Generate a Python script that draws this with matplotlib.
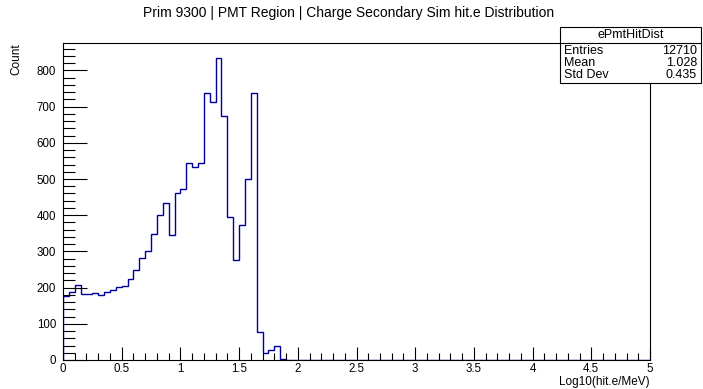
import numpy as np
import matplotlib
matplotlib.use("Agg")
import matplotlib.pyplot as plt
from matplotlib.ticker import MultipleLocator, FuncFormatter
from matplotlib.patches import Rectangle
from matplotlib.lines import Line2D

plt.rcParams['font.family'] = ['Liberation Sans', 'DejaVu Sans']

title = "Prim 9300 | PMT Region | Charge Secondary Sim hit.e Distribution"
x_label = "Log10(hit.e/MeV)"
y_label = "Count"
hist_name = "ePmtHitDist"
stat_names = ["Entries", "Mean", "Std Dev"]
stat_values = ["12710", "1.028", "0.435"]

x_min, x_max, n_bins = 0.0, 5.0, 100
counts_nonzero = [177, 188, 207, 182, 182, 184, 180, 188, 193, 202,
                  204, 225, 250, 283, 302, 349, 400, 435, 344, 460,
                  473, 545, 532, 543, 737, 714, 834, 673, 395, 276,
                  372, 501, 738, 78, 18, 27, 38, 3]
counts = counts_nonzero + [0] * (n_bins - len(counts_nonzero))
edges = np.linspace(x_min, x_max, n_bins + 1)

W, H = 703, 389
fig = plt.figure(figsize=(W / 100, H / 100), dpi=100)

L, R, T, B = 63, 650, 43, 360
ax = fig.add_axes([L / W, 1 - B / H, (R - L) / W, (B - T) / H])

ax.stairs(counts, edges, color='#000099', linewidth=1.0, baseline=0)

ymax = max(counts) * 1.05
ax.set_xlim(x_min, x_max)
ax.set_ylim(0, ymax)

ax.xaxis.set_major_locator(MultipleLocator(0.5))
ax.xaxis.set_minor_locator(MultipleLocator(0.1))
ax.yaxis.set_major_locator(MultipleLocator(100))
ax.yaxis.set_minor_locator(MultipleLocator(20))

ax.tick_params(axis='both', which='both', direction='in', top=False, right=False,
               labelsize=8.3, width=0.8, colors='black')
ax.tick_params(axis='y', which='major', length=17.5, pad=5)
ax.tick_params(axis='y', which='minor', length=8.8)
ax.tick_params(axis='x', which='major', length=9.5, pad=2.5)
ax.tick_params(axis='x', which='minor', length=4.8)

def fmt(v, pos):
    return '%g' % v
ax.xaxis.set_major_formatter(FuncFormatter(fmt))
ax.yaxis.set_major_formatter(FuncFormatter(fmt))

for sp in ax.spines.values():
    sp.set_linewidth(0.8)
    sp.set_color('black')

fig.text(R / W, 1 - 382.5 / H, x_label, ha='right', va='center', fontsize=8.5)
ax.set_ylabel(y_label, fontsize=8.5, loc='top', labelpad=10)

fig.text(349 / W, 1 - 13 / H, title, ha='center', va='center', fontsize=10.0)

# stats box (figure pixel coords)
bx0, bx1, by0, by1 = 560, 701, 27, 83
sep = 43
fig.add_artist(Rectangle((bx0 / W, 1 - by1 / H), (bx1 - bx0) / W, (by1 - by0) / H,
                         transform=fig.transFigure, facecolor='white',
                         edgecolor='black', linewidth=0.8, zorder=5))
fig.add_artist(Line2D([bx0 / W, bx1 / W], [1 - sep / H, 1 - sep / H],
                      transform=fig.transFigure, color='black', linewidth=0.8, zorder=6))
fig.text((bx0 + bx1) / 2 / W, 1 - 35 / H, hist_name, ha='center', va='center',
         fontsize=9.0, zorder=7)
row_y = [51, 63, 75]
for name, val, yy in zip(stat_names, stat_values, row_y):
    fig.text((bx0 + 4) / W, 1 - yy / H, name, ha='left', va='center', fontsize=9.0, zorder=7)
    fig.text((bx1 - 4) / W, 1 - yy / H, val, ha='right', va='center', fontsize=9.0, zorder=7)

fig.savefig('out.png', dpi=100)
